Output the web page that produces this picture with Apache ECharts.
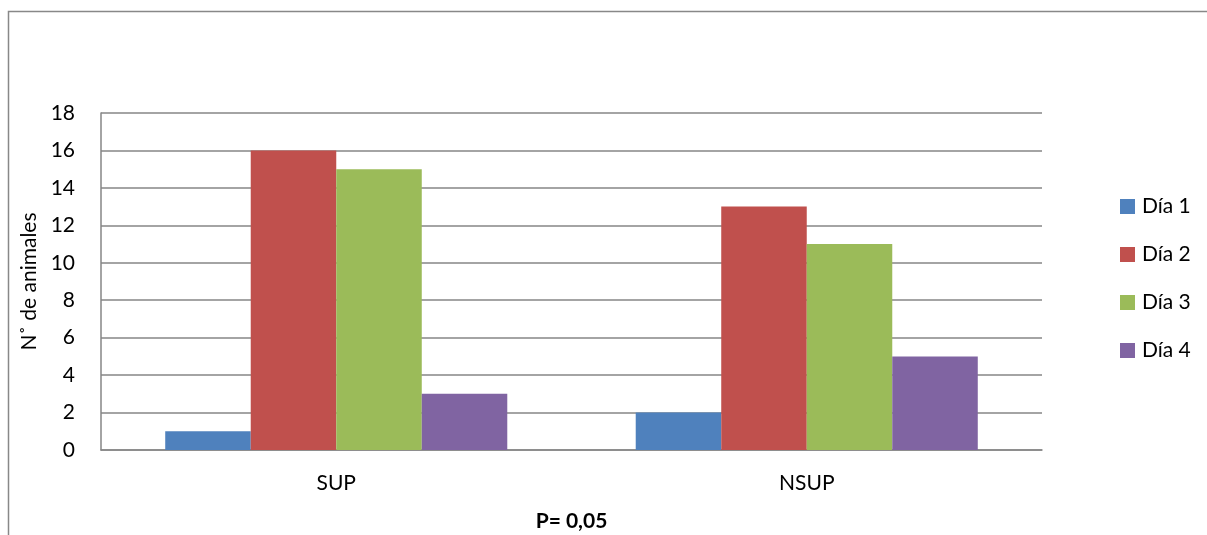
<!DOCTYPE html>
<html>
<head>
<meta charset="utf-8">
<script src="https://cdn.jsdelivr.net/npm/echarts@6/dist/echarts.min.js"></script>
<style>
html,body{margin:0;padding:0;background:#fff;}
#c{width:1207px;height:535px;}
</style>
</head>
<body>
<div id="c"></div>
<script>
const categories = ['SUP', 'NSUP'];
const seriesNames = ['Día 1', 'Día 2', 'Día 3', 'Día 4'];
const dia1 = [1, 2];
const dia2 = [16, 13];
const dia3 = [15, 11];
const dia4 = [3, 5];
const colors = ['#4F81BD', '#C0504D', '#9BBB59', '#8064A2'];
const yTicks = { min: 0, max: 18, interval: 2 };
const yName = 'N˚ de animales';
const xName = 'P= 0,05';

const FONT = 'Lato, "Liberation Sans", sans-serif';
const FS = 21;
const values = [dia1, dia2, dia3, dia4];

const chart = echarts.init(document.getElementById('c'), null, { renderer: 'canvas' });
chart.setOption({
  animation: false,
  backgroundColor: '#fff',
  color: colors,
  textStyle: { fontFamily: FONT },
  graphic: [{
    type: 'rect',
    shape: { x: 8.5, y: 11.5, width: 1220, height: 560 },
    style: { fill: 'none', stroke: '#888', lineWidth: 1.5 },
    silent: true
  }],
  grid: { left: 101, top: 113, right: 1207 - 1042, bottom: 535 - 450, containLabel: false, outerBoundsMode: 'none' },
  legend: {
    orient: 'vertical',
    left: 1115,
    top: 191,
    itemWidth: 15,
    itemHeight: 15,
    itemGap: 27,
    icon: 'rect',
    textStyle: { fontSize: FS, color: '#000', fontFamily: FONT, padding: [0, 0, 0, 2] },
    data: seriesNames
  },
  xAxis: {
    type: 'category',
    data: categories,
    name: xName,
    nameLocation: 'middle',
    nameGap: 61,
    nameTextStyle: { fontSize: FS, fontWeight: 'bold', color: '#000', fontFamily: FONT },
    axisLine: { lineStyle: { color: '#868686', width: 1.5 } },
    axisTick: { show: false },
    axisLabel: { fontSize: FS, color: '#000', margin: 23, fontFamily: FONT }
  },
  yAxis: {
    type: 'value',
    min: yTicks.min,
    max: yTicks.max,
    interval: yTicks.interval,
    name: yName,
    nameLocation: 'middle',
    nameGap: 53,
    nameTextStyle: { fontSize: FS, color: '#000', fontFamily: FONT },
    axisLine: { show: true, lineStyle: { color: '#868686', width: 1.5 } },
    axisTick: { show: false },
    axisLabel: { fontSize: FS, color: '#000', margin: 26, fontFamily: FONT },
    splitLine: { lineStyle: { color: '#868686', width: 1.5 } }
  },
  series: seriesNames.map((n, i) => ({
    name: n,
    type: 'bar',
    data: values[i],
    barGap: '0%',
    barCategoryGap: '27.3%',
    itemStyle: { color: colors[i] }
  }))
});
</script>
</body>
</html>
